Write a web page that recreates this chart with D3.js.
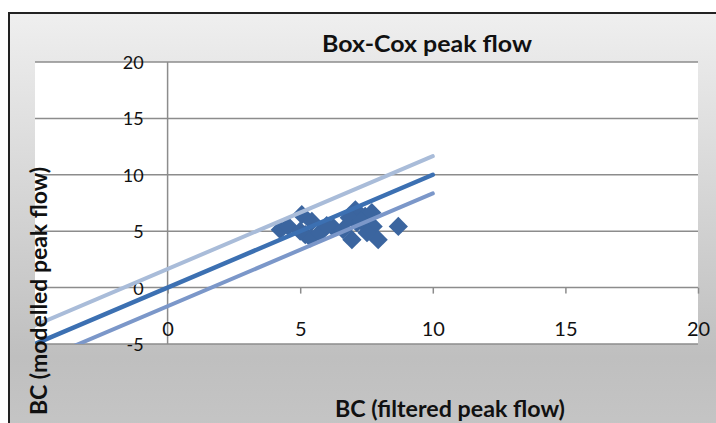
<!DOCTYPE html>
<html>
<head>
<meta charset="utf-8">
<script src="https://cdn.jsdelivr.net/npm/d3@7"></script>
<style>
  body { margin: 0; background: #fff; }
  text { font-family: Lato, "Open Sans", sans-serif; fill: #111; }
</style>
</head>
<body>
<script>
// scatter: BC(filtered) vs BC(modelled)
var obsX = [4.25, 4.55, 5.06, 5.19, 5.44, 5.4, 5.75, 6.25, 6.62, 7.08, 6.95, 7.14, 7.45, 7.7, 7.75, 7.94, 8.7, 7.52, 5.0, 6.0, 6.85, 7.3];
var obsY = [5.13, 5.42, 6.46, 4.69, 5.87, 4.4, 4.87, 5.31, 5.13, 6.9, 4.25, 5.75, 6.31, 6.64, 5.42, 4.25, 5.42, 4.87, 5.0, 5.5, 6.2, 5.9];

// 1:1 line and the two bounds
var lineX = [-5, 10];
var midY = [-5, 10];
var upperY = [-3.35, 11.65];
var lowerY = [-6.65, 8.35];

var xTicks = [0, 5, 10, 15, 20];
var yTicks = [-5, 0, 5, 10, 15, 20];

var width = 716, height = 423;

var svg = d3.select("body").append("svg")
    .attr("width", width)
    .attr("height", height);

var defs = svg.append("defs");
var grad = defs.append("linearGradient")
    .attr("id", "bg").attr("x1", 0).attr("y1", 0).attr("x2", 0).attr("y2", 1);
grad.append("stop").attr("offset", "0%").attr("stop-color", "#efefef");
grad.append("stop").attr("offset", "80%").attr("stop-color", "#bfbfbf");
grad.append("stop").attr("offset", "100%").attr("stop-color", "#c6c6c6");

// chart frame
svg.append("rect")
    .attr("x", 9).attr("y", 13)
    .attr("width", 730).attr("height", 430)
    .attr("fill", "url(#bg)")
    .attr("stroke", "#222")
    .attr("stroke-width", 2);

var x = d3.scaleLinear().domain([-5, 20]).range([35, 698]);
var y = d3.scaleLinear().domain([-5, 20]).range([344, 62]);

defs.append("clipPath").attr("id", "plotclip")
  .append("rect")
    .attr("x", x(-5)).attr("y", y(20))
    .attr("width", x(20) - x(-5)).attr("height", y(-5) - y(20));

// plot area
svg.append("rect")
    .attr("x", x(-5)).attr("y", y(20))
    .attr("width", x(20) - x(-5)).attr("height", y(-5) - y(20))
    .attr("fill", "#fff");

svg.append("g").selectAll("line")
    .data(yTicks).enter()
    .append("line")
    .attr("x1", x(-5)).attr("x2", x(20))
    .attr("y1", function(d){ return y(d); })
    .attr("y2", function(d){ return y(d); })
    .attr("stroke", "#8c8c8c")
    .attr("stroke-width", 1.5);

// vertical axis line at x = 0
svg.append("line")
    .attr("x1", x(0)).attr("x2", x(0))
    .attr("y1", y(20)).attr("y2", y(-5))
    .attr("stroke", "#8c8c8c")
    .attr("stroke-width", 1.5);

// x axis ticks on y = 0
var xAxis = svg.append("g")
    .attr("transform", "translate(0," + y(0) + ")")
    .call(d3.axisBottom(x).tickValues(xTicks).tickSize(6).tickFormat(String));
xAxis.select(".domain").remove();
xAxis.selectAll("line").attr("stroke", "#8c8c8c").attr("stroke-width", 1.5);
xAxis.selectAll("text")
    .attr("y", 48).attr("dy", 0)
    .style("font-size", "20px")
    .attr("fill", "#111");

// y axis labels
var yAxis = svg.append("g")
    .attr("transform", "translate(" + x(0) + ",0)")
    .call(d3.axisLeft(y).tickValues(yTicks).tickSize(0).tickPadding(24).tickFormat(String));
yAxis.select(".domain").remove();
yAxis.selectAll("text")
    .attr("dy", "0.36em")
    .style("font-size", "18px")
    .attr("fill", "#111");

var plot = svg.append("g").attr("clip-path", "url(#plotclip)");

// observations
plot.selectAll("path.pt")
    .data(obsX.map(function(v, i){ return [v, obsY[i]]; })).enter()
    .append("path")
    .attr("class", "pt")
    .attr("d", d3.symbol().type(d3.symbolSquare).size(185))
    .attr("transform", function(d){ return "translate(" + x(d[0]) + "," + y(d[1]) + ") rotate(45)"; })
    .attr("fill", "#3b659f");

var line = d3.line()
    .x(function(d){ return x(d[0]); })
    .y(function(d){ return y(d[1]); });

var series = [
  { ys: upperY, color: "#a9bcd9", w: 4 },
  { ys: midY, color: "#3c70b2", w: 4.5 },
  { ys: lowerY, color: "#7b97c9", w: 4 }
];

series.forEach(function(s){
  plot.append("path")
      .datum(lineX.map(function(v, i){ return [v, s.ys[i]]; }))
      .attr("d", line)
      .attr("fill", "none")
      .attr("stroke", s.color)
      .attr("stroke-width", s.w)
      .attr("stroke-linecap", "round");
});

// titles
svg.append("text")
    .attr("x", 427).attr("y", 52)
    .attr("text-anchor", "middle")
    .attr("textLength", 210).attr("lengthAdjust", "spacingAndGlyphs")
    .style("font-size", "22px").style("font-weight", "bold")
    .text("Box-Cox peak flow");

svg.append("text")
    .attr("x", 450).attr("y", 417)
    .attr("text-anchor", "middle")
    .attr("textLength", 230).attr("lengthAdjust", "spacingAndGlyphs")
    .style("font-size", "22px").style("font-weight", "bold")
    .text("BC (filtered peak flow)");

svg.append("text")
    .attr("transform", "translate(47,291) rotate(-90)")
    .attr("text-anchor", "middle")
    .attr("textLength", 248).attr("lengthAdjust", "spacingAndGlyphs")
    .style("font-size", "22px").style("font-weight", "bold")
    .text("BC (modelled peak flow)");
</script>
</body>
</html>
